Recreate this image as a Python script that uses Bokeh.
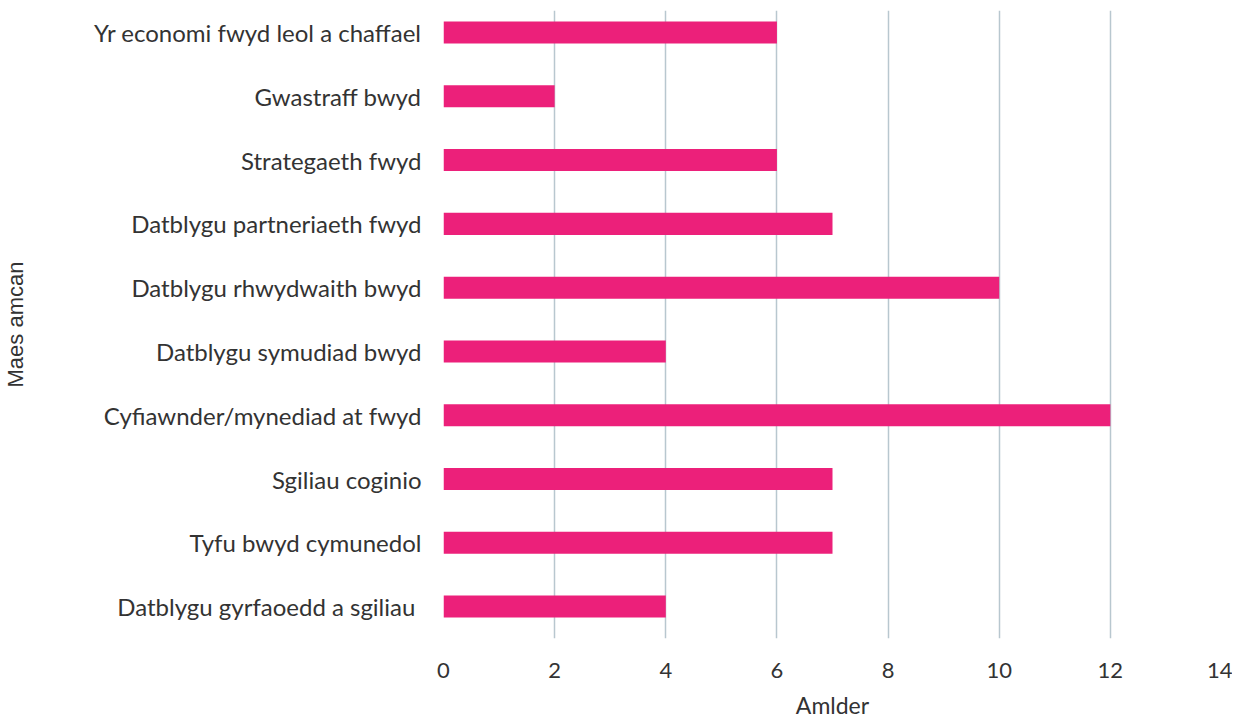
from bokeh.plotting import figure
from bokeh.models import Range1d, FixedTicker
from bokeh.embed import file_html
from bokeh.resources import INLINE

categories = [
    "Yr economi fwyd leol a chaffael",
    "Gwastraff bwyd",
    "Strategaeth fwyd",
    "Datblygu partneriaeth fwyd",
    "Datblygu rhwydwaith bwyd",
    "Datblygu symudiad bwyd",
    "Cyfiawnder/mynediad at fwyd",
    "Sgiliau coginio",
    "Tyfu bwyd cymunedol",
    "Datblygu gyrfaoedd a sgiliau ",
]
values = [6, 2, 6, 7, 10, 4, 12, 7, 7, 4]
x_ticks = [0, 2, 4, 6, 8, 10, 12, 14]

n = len(categories)
ypos = [n - 1 - i for i in range(n)]

p = figure(
    output_backend="svg", toolbar_location=None,
    frame_width=778, frame_height=628,
    min_border_left=443, min_border_right=11, min_border_top=10, min_border_bottom=74,
    x_range=Range1d(0, 14), y_range=Range1d(-0.5, n - 1 + 0.345),
)
p.outline_line_color = None
p.background_fill_color = "white"
p.border_fill_color = "white"

p.hbar(y=ypos, right=values, left=0, height=0.345, color="#EC207A", line_color=None)

# x axis
p.xaxis.ticker = FixedTicker(ticks=x_ticks)
p.xaxis.axis_line_color = None
p.xaxis.major_tick_line_color = None
p.xaxis.minor_tick_line_color = None
p.xaxis.major_label_text_font = "Lato"
p.xaxis.major_label_text_font_size = "22px"
p.xaxis.major_label_text_color = "#333333"
p.xaxis.major_label_standoff = 18
p.xaxis.axis_label = "Amlder"
p.xaxis.axis_label_text_font = "Lato"
p.xaxis.axis_label_text_font_size = "23px"
p.xaxis.axis_label_text_font_style = "normal"
p.xaxis.axis_label_text_color = "#333333"
p.xaxis.axis_label_standoff = 10

# y axis
p.yaxis.ticker = FixedTicker(ticks=ypos)
p.yaxis.major_label_overrides = {y: c for y, c in zip(ypos, categories)}
p.yaxis.axis_line_color = None
p.yaxis.major_tick_line_color = None
p.yaxis.minor_tick_line_color = None
p.yaxis.major_label_text_font = "Lato"
p.yaxis.major_label_text_font_size = "24px"
p.yaxis.major_label_text_color = "#333333"
p.yaxis.major_label_standoff = 16
p.yaxis.axis_label = "Maes amcan"
p.yaxis.axis_label_text_font = "Liberation Sans"
p.yaxis.axis_label_text_font_size = "22px"
p.yaxis.axis_label_text_font_style = "normal"
p.yaxis.axis_label_text_color = "#333333"
p.yaxis.axis_label_standoff = 63

p.xgrid.ticker = FixedTicker(ticks=x_ticks)
p.xgrid.grid_line_color = "#B8C7CF"
p.xgrid.grid_line_width = 1.5
p.ygrid.grid_line_color = None

open("out.html", "w").write(file_html(p, INLINE))
